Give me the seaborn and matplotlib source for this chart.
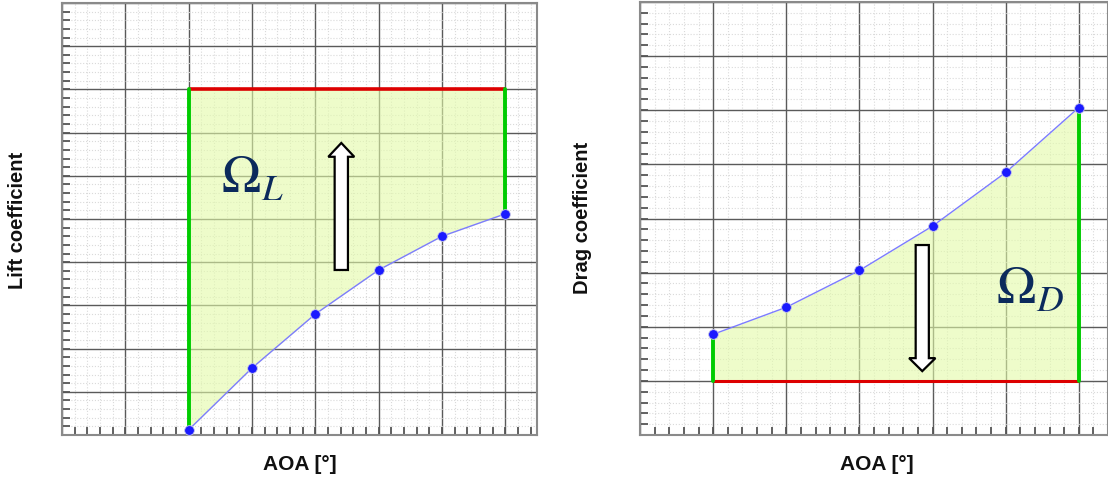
import numpy as np
import pandas as pd
import matplotlib
matplotlib.use("Agg")
import matplotlib.pyplot as plt
import seaborn as sns
from matplotlib.ticker import MultipleLocator
from matplotlib.patches import FancyArrow

# ---------------- data ----------------
aoa_lift = [2, 3, 4, 5, 6, 7]
lift_coef = [0.12, 1.55, 2.80, 3.82, 4.60, 5.12]
lift_target = 8.0

aoa_drag = [1, 2, 3, 4, 5, 6]
drag_coef = [1.86, 2.36, 3.04, 3.86, 4.85, 6.05]
drag_target = 1.0

lift_ylabel = "Lift coefficient"
drag_ylabel = "Drag coefficient"
x_label = "AOA [°]"
lift_region_label = r"$\Omega_L$"
drag_region_label = r"$\Omega_D$"

# annotation anchors (data units)
lift_label_pos = (3.0, 5.9)
drag_label_pos = (5.33, 2.67)
lift_arrow = dict(x=4.41, y0=3.82, y1=6.76)
drag_arrow = dict(x=3.86, y0=3.51, y1=1.18)

# ---------------- style ----------------
sns.set_theme(style="white")
plt.rcParams["font.family"] = ["Liberation Sans", "DejaVu Sans"]
plt.rcParams["mathtext.fontset"] = "stix"

FILL = "#e3fba8"
RED = "#dd0000"
GREEN = "#00cc00"
BLUE_LINE = "#7c7cff"
BLUE_DOT = "#1a1aff"
NAVY = "#0b2a5c"

W, H = 1108, 480
fig = plt.figure(figsize=(W / 100, H / 100), dpi=100)
ax1 = fig.add_axes([62 / W, 1 - 435 / H, 475 / W, 432 / H])
ax2 = fig.add_axes([640 / W, 1 - 435 / H, 468 / W, 433 / H])


def style_axes(ax, xlim, ylim):
    ax.set_xlim(*xlim)
    ax.set_ylim(*ylim)
    ax.xaxis.set_major_locator(MultipleLocator(1))
    ax.xaxis.set_minor_locator(MultipleLocator(0.2))
    ax.yaxis.set_major_locator(MultipleLocator(1))
    ax.yaxis.set_minor_locator(MultipleLocator(0.2))
    ax.grid(which="major", color="#5a5a5a", lw=1.0, ls="-")
    ax.grid(which="minor", color="#dadada", lw=0.8, ls=":")
    ax.set_axisbelow(True)
    ax.tick_params(which="both", direction="in", left=True, bottom=True,
                   top=False, right=False, labelleft=False, labelbottom=False,
                   color="#555555", length=6, width=1.3)
    for s in ax.spines.values():
        s.set_color("#8a8a8a")
        s.set_linewidth(1.5)


# ---------------- left: lift ----------------
style_axes(ax1, (0, 7.5), (0, 10))
df_l = pd.DataFrame({"aoa": aoa_lift, "coef": lift_coef})
ax1.fill_between(df_l["aoa"], df_l["coef"], lift_target, color=FILL, alpha=0.6,
                 lw=0, zorder=2)
ax1.plot([aoa_lift[0], aoa_lift[-1]], [lift_target, lift_target], color=RED,
         lw=2.6, zorder=4, solid_capstyle="butt")
ax1.plot([aoa_lift[0], aoa_lift[0]], [lift_coef[0], lift_target], color=GREEN,
         lw=2.8, zorder=4)
ax1.plot([aoa_lift[-1], aoa_lift[-1]], [lift_coef[-1], lift_target], color=GREEN,
         lw=2.8, zorder=4)
sns.lineplot(data=df_l, x="aoa", y="coef", ax=ax1, color=BLUE_LINE, lw=1.0,
             marker="o", markersize=7, markerfacecolor=BLUE_DOT,
             markeredgecolor="#c8c8e8", markeredgewidth=0.6, zorder=5)
ax1.text(*lift_label_pos, lift_region_label, fontsize=38, color=NAVY,
         ha="center", va="center", zorder=6)
ax1.add_patch(FancyArrow(lift_arrow["x"], lift_arrow["y0"], 0,
                         lift_arrow["y1"] - lift_arrow["y0"], width=0.21,
                         head_width=0.41, head_length=0.32,
                         length_includes_head=True, fc="white", ec="black",
                         lw=1.6, zorder=6))
ax1.set_xlabel("")
ax1.set_ylabel("")

# ---------------- right: drag ----------------
style_axes(ax2, (0, 6.4), (0, 8))
df_d = pd.DataFrame({"aoa": aoa_drag, "coef": drag_coef})
ax2.fill_between(df_d["aoa"], drag_target, df_d["coef"], color=FILL, alpha=0.6,
                 lw=0, zorder=2)
ax2.plot([aoa_drag[0], aoa_drag[-1]], [drag_target, drag_target], color=RED,
         lw=2.2, zorder=4, solid_capstyle="butt")
ax2.plot([aoa_drag[0], aoa_drag[0]], [drag_target, drag_coef[0]], color=GREEN,
         lw=2.8, zorder=4)
ax2.plot([aoa_drag[-1], aoa_drag[-1]], [drag_target, drag_coef[-1]], color=GREEN,
         lw=2.8, zorder=4)
sns.lineplot(data=df_d, x="aoa", y="coef", ax=ax2, color=BLUE_LINE, lw=1.0,
             marker="o", markersize=7, markerfacecolor=BLUE_DOT,
             markeredgecolor="#c8c8e8", markeredgewidth=0.6, zorder=5)
ax2.text(*drag_label_pos, drag_region_label, fontsize=38, color=NAVY,
         ha="center", va="center", zorder=6)
ax2.add_patch(FancyArrow(drag_arrow["x"], drag_arrow["y0"], 0,
                         drag_arrow["y1"] - drag_arrow["y0"], width=0.18,
                         head_width=0.36, head_length=0.24,
                         length_includes_head=True, fc="white", ec="black",
                         lw=1.6, zorder=6))
ax2.set_xlabel("")
ax2.set_ylabel("")

# ---------------- axis titles (figure text) ----------------
lab_kw = dict(fontweight="bold", color="#111111", ha="center", va="center")
fig.text(300 / W, 1 - 465 / H, x_label, fontsize=15, **lab_kw)
fig.text(877 / W, 1 - 465 / H, x_label, fontsize=15, **lab_kw)
fig.text(18 / W, 1 - 220 / H, lift_ylabel, fontsize=14.5, rotation=90, **lab_kw)
fig.text(583 / W, 1 - 218 / H, drag_ylabel, fontsize=14.5, rotation=90, **lab_kw)

fig.savefig("out.png", dpi=100)
